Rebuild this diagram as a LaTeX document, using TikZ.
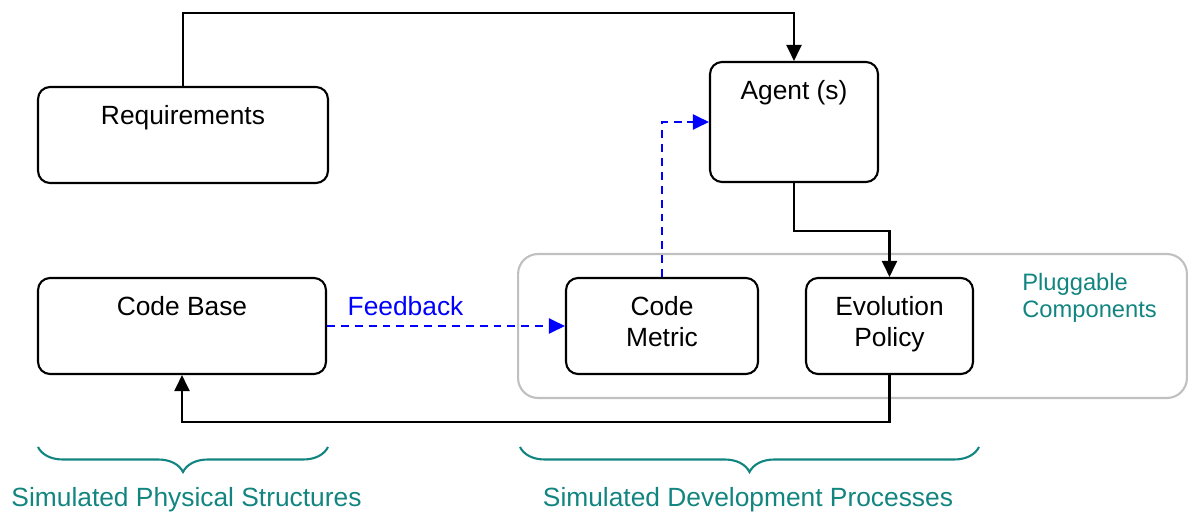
\documentclass[tikz,border=0pt]{standalone}
\usepackage{fontspec}
\setmainfont{Liberation Sans}
\usetikzlibrary{arrows.meta, decorations.pathreplacing}
\definecolor{tealtext}{RGB}{18,133,128}
\definecolor{plugborder}{RGB}{192,192,192}

\begin{document}
\begin{tikzpicture}[x=0.02cm, y=-0.02cm, >={Triangle[length=0.32cm, width=0.3cm]},
  box/.style={draw, rounded corners=0.24cm, line width=1.2pt},
  lbl/.style={anchor=north, inner sep=0pt, align=center, font=\fontsize{15}{17.6}\selectfont},
  flow/.style={->, line width=1.2pt},
  fb/.style={->, blue, dash pattern=on 4.5pt off 3.4pt, line width=1.2pt},
  note/.style={anchor=base, inner sep=0pt, text=tealtext, font=\fontsize{15}{17.6}\selectfont},
  curly/.style={draw=tealtext, line width=1.2pt, decorate, decoration={brace, mirror, amplitude=0.5cm}}]

\useasboundingbox (0,0) rectangle (1188,514);

% pluggable area
\node (plug) at (852.5, 326) [draw=plugborder, line width=1.2pt, rounded corners=0.4cm, minimum width=13.38cm, minimum height=2.88cm] {};
\node (plugtext) at (1022, 273) [anchor=north west, inner sep=0pt, align=left, text=tealtext, font=\fontsize{13.5}{15.3}\selectfont] {Pluggable\\Components};

% boxes
\node (req)    at (183, 135)   [box, minimum width=5.8cm,  minimum height=1.92cm] {};
\node (agent)  at (794, 122)   [box, minimum width=3.36cm, minimum height=2.4cm]  {};
\node (base)   at (182, 326)   [box, minimum width=5.76cm, minimum height=1.92cm] {};
\node (metric) at (662, 326)   [box, minimum width=3.84cm, minimum height=1.92cm] {};
\node (policy) at (889.5, 326) [box, minimum width=3.34cm, minimum height=1.92cm] {};

\node (reqtext)    at ([yshift=-0.38cm]req.north)    [lbl] {Requirements};
\node (agenttext)  at ([yshift=-0.38cm]agent.north)  [lbl] {Agent (s)};
\node (basetext)   at ([yshift=-0.38cm]base.north)   [lbl] {Code Base};
\node (metrictext) at ([yshift=-0.38cm]metric.north) [lbl] {Code\\Metric};
\node (policytext) at ([yshift=-0.38cm]policy.north) [lbl] {Evolution\\Policy};

% control flow
\draw[flow] (req.north) -- ++(0, -73) -| (agent.north);
\draw[flow] (agent.south) -- ++(0, 48) -| (policy.north);
\draw[flow] (policy.south) -- ++(0, 47) -| (base.south);

% feedback
\draw[fb] (base.east) -- node[pos=0.33, above, yshift=2pt, text=blue, font=\fontsize{15}{17.6}\selectfont] (fbtext) {Feedback} (metric.west);
\draw[fb] (metric.north) |- (agent.west);

% braces
\coordinate (pb1) at (38, 447);
\coordinate (pb2) at (328, 447);
\coordinate (db1) at (520, 447);
\coordinate (db2) at (979, 447);
\draw[curly] (pb1) -- (pb2);
\draw[curly] (db1) -- (db2);
\node (phys) at (186.5, 506) [note] {Simulated Physical Structures};
\node (dev)  at (748, 506)   [note] {Simulated Development Processes};

\end{tikzpicture}
\end{document}
